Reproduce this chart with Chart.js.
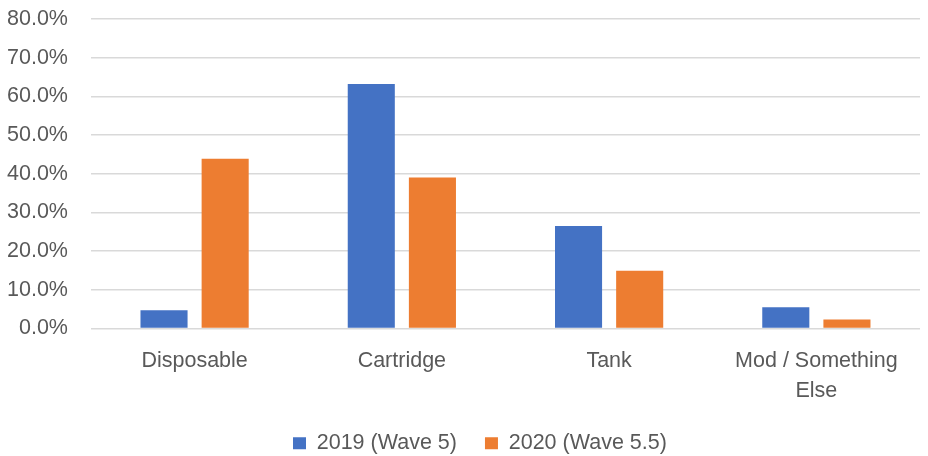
<!DOCTYPE html>
<html>
<head>
<meta charset="utf-8">
<script src="https://cdn.jsdelivr.net/npm/chart.js@4/dist/chart.umd.min.js"></script>
<style>
html,body{margin:0;padding:0;background:#fff;}
#wrap{width:928px;height:456px;position:relative;}
</style>
</head>
<body>
<div id="wrap"><canvas id="c" width="928" height="456"></canvas></div>
<script>
const categories = ["Disposable", "Cartridge", "Tank", ["Mod / Something", "Else"]];
const seriesNames = ["2019 (Wave 5)", "2020 (Wave 5.5)"];
const values2019 = [4.7, 63.2, 26.5, 5.5];
const values2020 = [43.9, 39.0, 14.9, 2.3];
const yTicks = [0, 10, 20, 30, 40, 50, 60, 70, 80];

const FONT = "'Liberation Sans', Arial, sans-serif";
const FS = 21.5;
const TXT = '#595959';

const legendShift = {
  id: 'legendShift',
  afterLayout(chart) {
    const lg = chart.legend;
    if (!lg) return;
    const w = lg.right - lg.left;
    lg.left = 265;
    lg.right = lg.left + w;
    lg.top -= 20;
    lg.bottom -= 20;
  }
};

new Chart(document.getElementById('c'), {
  type: 'bar',
  data: {
    labels: categories,
    datasets: [
      { label: seriesNames[0], data: values2019, backgroundColor: '#4472C4', borderWidth: 0 },
      { label: seriesNames[1], data: values2020, backgroundColor: '#ED7D31', borderWidth: 0 }
    ]
  },
  options: {
    responsive: false,
    animation: false,
    devicePixelRatio: 1,
    layout: { padding: { left: 7, right: 8, top: 19, bottom: -28 } },
    datasets: { bar: { categoryPercentage: 0.59, barPercentage: 0.77 } },
    plugins: {
      legend: {
        position: 'bottom',
        align: 'start',
        labels: { boxWidth: 13, boxHeight: 12, color: TXT, font: { family: FONT, size: FS }, padding: 28 }
      },
      tooltip: { enabled: false }
    },
    scales: {
      x: {
        grid: { display: false, drawTicks: false },
        border: { display: false },
        ticks: { color: TXT, font: { family: FONT, size: FS, lineHeight: 30 / FS }, padding: 18, maxRotation: 0, autoSkip: false }
      },
      y: {
        min: 0, max: 80,
        afterBuildTicks: (axis) => { axis.ticks = yTicks.map(v => ({ value: v })); },
        grid: { color: '#D9D9D9', lineWidth: 1.5, drawTicks: true, tickLength: 23, tickColor: 'rgba(0,0,0,0)' },
        border: { display: false },
        ticks: { color: TXT, font: { family: FONT, size: FS }, padding: 0, callback: v => v.toFixed(1) + '%' }
      }
    }
  },
  plugins: [legendShift]
});
</script>
</body>
</html>
